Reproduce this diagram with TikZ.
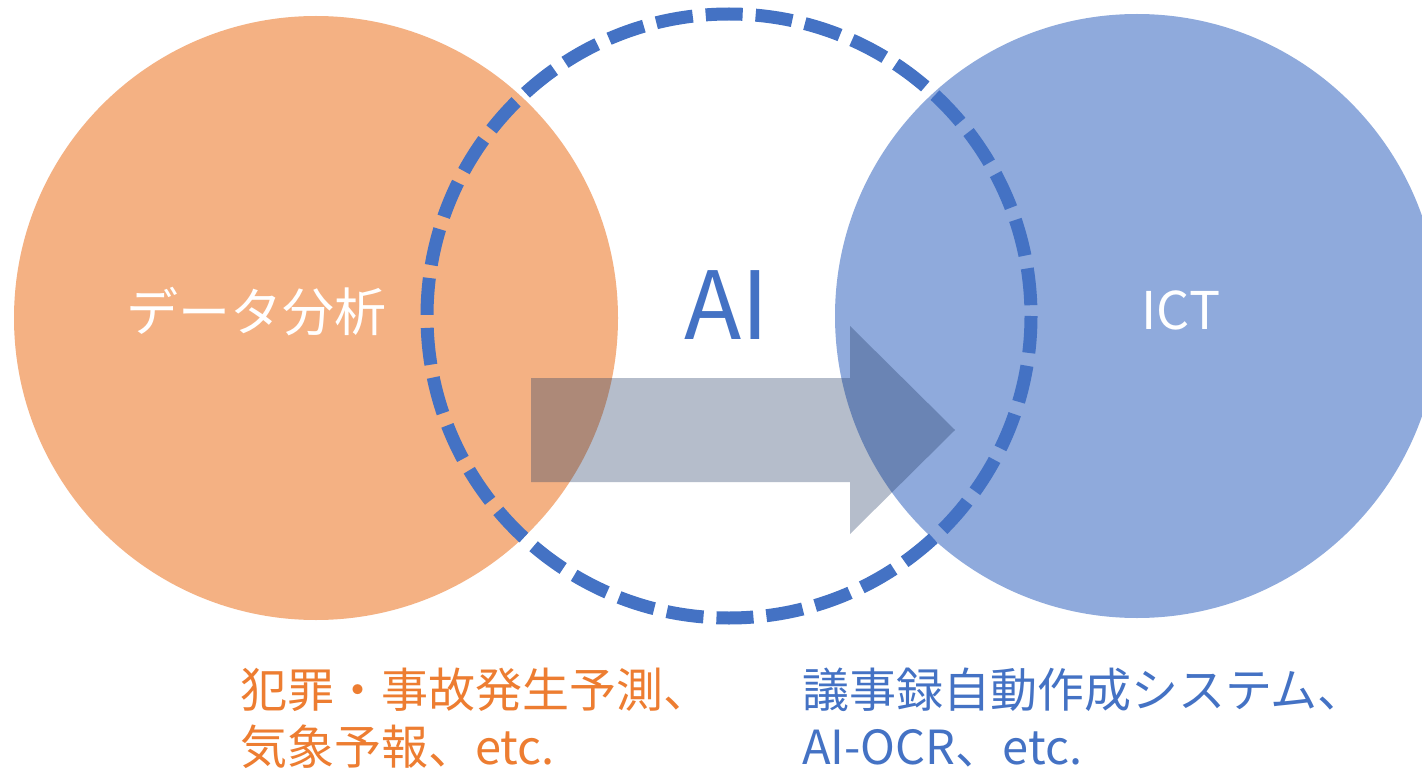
\documentclass[tikz,border=0pt]{standalone}
\usepackage{fontspec}
\setmainfont{Noto Sans CJK JP}
\definecolor{orfill}{HTML}{F4B183}
\definecolor{blfill}{HTML}{8FAADC}
\definecolor{acc}{HTML}{4472C4}
\definecolor{ortext}{HTML}{ED7D31}
\definecolor{arrowc}{HTML}{1F3864}
\begin{document}
\begin{tikzpicture}[x=1pt,y=-1pt,
  setcircle/.style={fill=#1,draw=none},
  aicircle/.style={draw=acc,line width=13pt,dash pattern=on 37pt off 13pt},
  bigarrow/.style={fill=arrowc,fill opacity=0.33,draw=none},
  intext/.style={text=white,inner sep=0pt,font=\fontsize{52}{60}\selectfont},
  foottext/.style={text=#1,inner sep=0pt,anchor=base west,align=left,font=\fontsize{47}{57}\selectfont}]
\useasboundingbox (0,0) rectangle (1422,770);
\fill[white] (0,0) rectangle (1422,770);
\fill[setcircle=orfill] (316,318) circle[radius=302];
\fill[setcircle=blfill] (1137,316) circle[radius=302];
\fill[bigarrow] (531,378) -- (850,378) -- (850,326) -- (955,430) -- (850,534) -- (850,482) -- (531,482) -- cycle;
\draw[aicircle] (729,316) circle[radius=302];
\node[intext] (data) at (256,312) {データ分析};
\node[intext] (ict) at (1181,310) {ICT};
\node[text=acc,inner sep=0pt,font=\fontsize{94}{100}\selectfont] (ai) at (727,305) {AI};
\node[foottext=ortext] (ex1) at (240,764) {犯罪・事故発生予測、\\気象予報、etc.};
\node[foottext=acc] (ex2) at (802,764) {議事録自動作成システム、\\AI-OCR、etc.};
\end{tikzpicture}
\end{document}
